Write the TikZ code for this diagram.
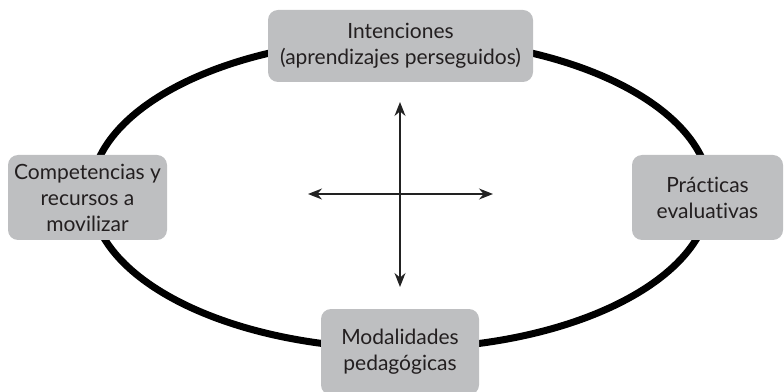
\documentclass[tikz,border=0pt]{standalone}
\usepackage{fontspec}
\setmainfont{Lato}[Ligatures=NoCommon]
\usetikzlibrary{arrows.meta}
\definecolor{boxgray}{HTML}{BEBFC1}
\definecolor{txt}{HTML}{231F20}
\definecolor{arr}{HTML}{222222}
\begin{document}
\begin{tikzpicture}[x=1pt,y=1pt,
  box/.style={draw=none,fill=boxgray,rounded corners=10pt,align=center,
    text=txt,font=\fontsize{21}{26}\selectfont,inner sep=0pt},
  axis/.style={draw=arr,line width=1.3pt,{Stealth[length=14pt,width=11pt]}-{Stealth[length=14pt,width=11pt]}}]
\useasboundingbox (0,0) rectangle (784,391);
\draw[line width=7pt] (400.5,197.5) ellipse [x radius=309.5pt, y radius=155pt];
\node[box,minimum width=265pt,minimum height=72pt] (top) at (400.5,345) {Intenciones\\(aprendizajes perseguidos)};
\node[box,minimum width=159pt,minimum height=85pt] (left) at (87.5,193.5) {Competencias y\\recursos a\\movilizar};
\node[box,minimum width=151pt,minimum height=85pt] (right) at (707.5,193.5) {Prácticas\\evaluativas};
\node[box,minimum width=158pt,minimum height=86pt] (bottom) at (400,39) {Modalidades\\pedagógicas};
\coordinate (n) at (400,289);
\coordinate (s) at (400,104);
\coordinate (w) at (308,197);
\coordinate (e) at (493,197);
\draw[axis] (n) -- (s);
\draw[axis] (w) -- (e);
\end{tikzpicture}
\end{document}
